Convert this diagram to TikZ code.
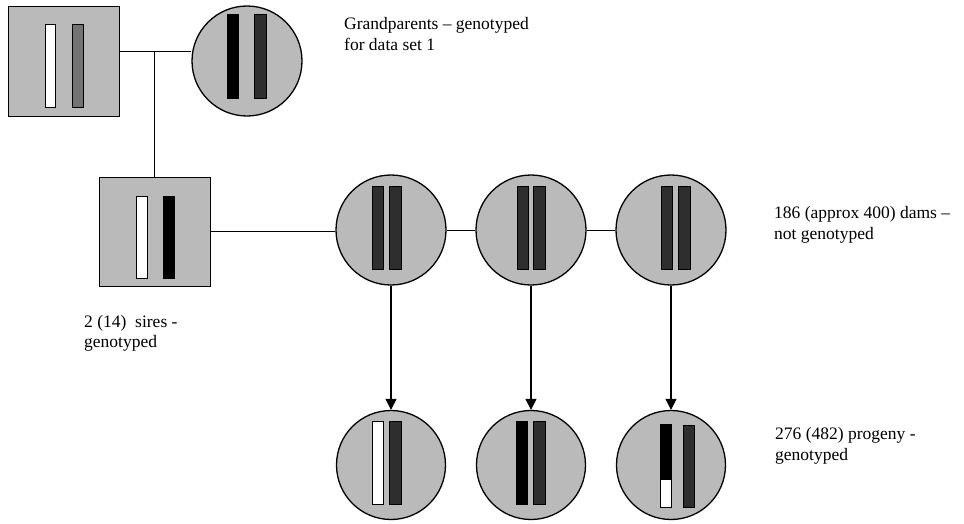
\documentclass[tikz,border=0pt]{standalone}
\usepackage{fontspec}
\setmainfont{Liberation Serif}
\usetikzlibrary{arrows.meta}
\begin{document}
\begin{tikzpicture}[x=1pt,y=-1pt,
  stip/.style={fill=black!27},
  maleshape/.style={stip,draw,line width=1pt,rectangle,minimum width=111pt,minimum height=110pt,inner sep=0pt},
  femaleshape/.style={stip,draw,line width=1.3pt,circle,minimum size=110pt,inner sep=0pt},
  progshape/.style={stip,draw,line width=1.3pt,circle,minimum size=109pt,inner sep=0pt},
  conn/.style={line width=0.9pt},
  descent/.style={line width=1.1pt,-{Triangle[length=11pt,width=11pt]}},
  wbar/.style={fill=white,draw=black,line width=0.8pt},
  bbar/.style={fill=black,draw=black,line width=0.6pt},
  dbar/.style={fill=black!82,draw=black,line width=0.6pt},
  gbar/.style={fill=black!55,draw=black,line width=0.8pt},
  lab/.style={anchor=base west,inner sep=0pt,font=\fontsize{17.5}{21}\selectfont},
]
\useasboundingbox (0,0) rectangle (964,523);

% grandparents
\node[maleshape] (gf) at (63.5,61) {};
\draw[wbar] (45,24) rectangle (55,107);
\draw[gbar] (72,24) rectangle (83,107);
\node[femaleshape] (gm) at (247,61) {};
\draw[bbar] (227,14) rectangle (238,98);
\draw[dbar] (254,14) rectangle (266,98);

% sire
\node[maleshape,minimum height=109pt] (sire) at (154.5,231.5) {};
\draw[wbar] (136,196) rectangle (147,278);
\draw[bbar] (163,196) rectangle (174,278);

% dams
\node[femaleshape] (dam1) at (391,230) {};
\draw[dbar] (372,186) rectangle (383,269);
\draw[dbar] (389,186) rectangle (401,269);
\node[femaleshape] (dam2) at (531,230) {};
\draw[dbar] (517,186) rectangle (528,269);
\draw[dbar] (533,186) rectangle (545,269);
\node[femaleshape] (dam3) at (671,230) {};
\draw[dbar] (661,186) rectangle (672,269);
\draw[dbar] (678,186) rectangle (690,269);

% progeny
\node[progshape] (p1) at (391,465) {};
\draw[wbar] (372,421) rectangle (383,504);
\draw[dbar] (389,421) rectangle (401,504);
\node[progshape] (p2) at (531,465) {};
\draw[bbar] (516,421) rectangle (527,504);
\draw[dbar] (533,421) rectangle (545,504);
\node[progshape] (p3) at (671,465) {};
\draw[bbar] (660,424) rectangle (671,479);
\draw[wbar] (660,479) rectangle (671,507);
\draw[dbar] (683,425) rectangle (694,507);

% connectors
\coordinate (m) at (154,51);
\draw[conn] (m -| gf.east) -- (m -| gm.west);
\draw[conn] (m) -- (m |- sire.north);
\draw[conn] (sire.east) -- (sire.east -| dam1.west);
\draw[conn] (dam1.east) -- (dam2.west);
\draw[conn] (dam2.east) -- (dam3.west);
\draw[descent] (dam1.south) -- (p1.north);
\draw[descent] (dam2.south) -- (p2.north);
\draw[descent] (dam3.south) -- (p3.north);

% labels
\node[lab] (t1a) at (344,29) {Grandparents – genotyped};
\node[lab] (t1b) at (344,50) {for data set 1};
\node[lab] (t2a) at (774,218) {186 (approx 400) dams –};
\node[lab] (t2b) at (774,239) {not genotyped};
\node[lab] (t3a) at (84,327) {2 (14)~ sires -};
\node[lab] (t3b) at (84,347) {genotyped};
\node[lab] (t4a) at (775,439) {276 (482) progeny -};
\node[lab] (t4b) at (775,460) {genotyped};
\end{tikzpicture}
\end{document}
